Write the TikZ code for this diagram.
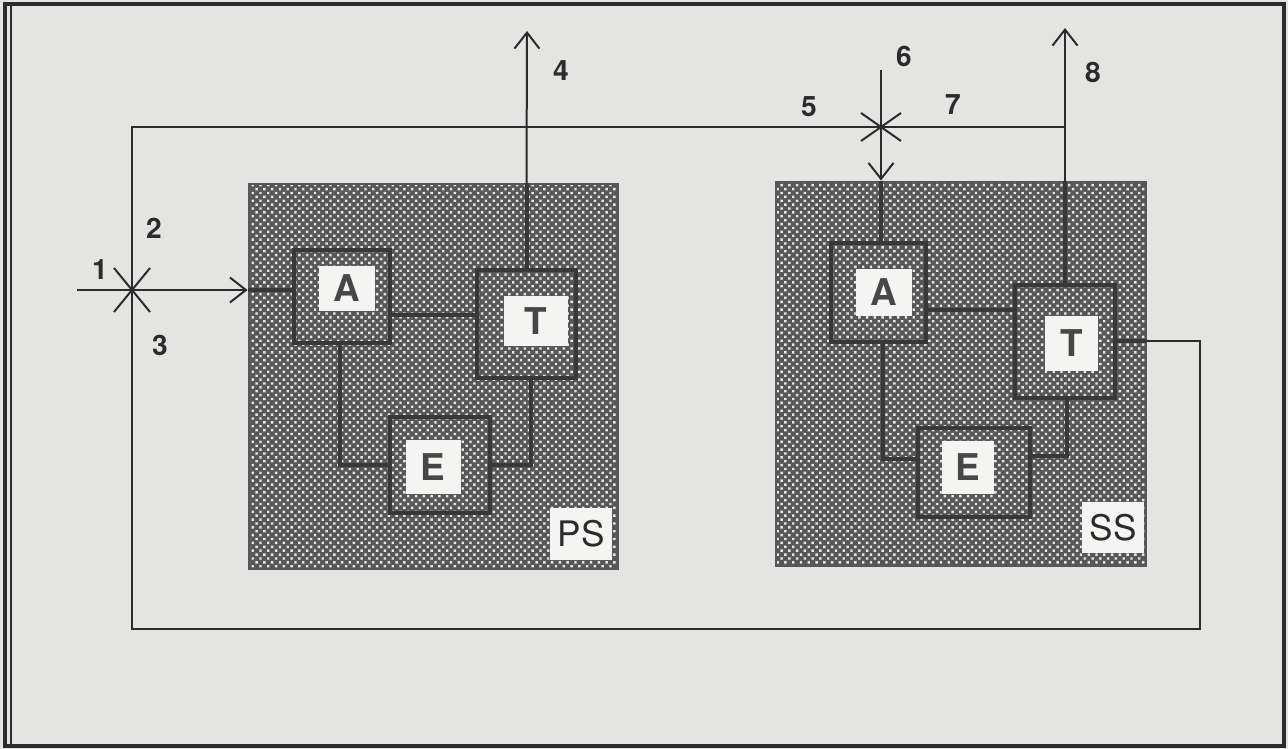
\documentclass[tikz,border=0pt]{standalone}
\usepackage{fontspec}
\setsansfont{TeX Gyre Heros}
\usetikzlibrary{arrows.meta,positioning,patterns.meta}
\definecolor{PageGray}{HTML}{E4E4E2}
\definecolor{InkDark}{HTML}{2B2B2B}
\definecolor{HatchDark}{HTML}{575757}
\definecolor{HatchDot}{HTML}{E6E6E6}
\definecolor{FrameDark}{HTML}{383838}
\definecolor{TagWhite}{HTML}{F4F4F2}
\definecolor{TagInk}{HTML}{474747}

\begin{document}
\begin{tikzpicture}[x=0.02cm,y=-0.02cm,
    flow/.style={draw=InkDark, line width=0.04cm},
    flowarr/.style={flow, -{Straight Barb[length=0.32cm,width=0.5cm,line width=0.04cm]}},
    link/.style={draw=FrameDark, line width=0.08cm},
    syssq/.style={draw=HatchDark, line width=0.04cm, preaction={fill=HatchDark},
      pattern={Dots[distance=0.11cm,angle=45,radius=0.034cm]}, pattern color=HatchDot,
      minimum width=7.4cm, minimum height=7.7cm, inner sep=0pt},
    partbox/.style={draw=FrameDark, line width=0.08cm, inner sep=0pt},
    tag/.style={fill=TagWhite, text=TagInk, inner sep=0pt, font=\sffamily\bfseries\fontsize{21}{21}\selectfont},
    systag/.style={fill=TagWhite, text=InkDark, inner sep=0pt, font=\sffamily\fontsize{20}{20}\selectfont},
    num/.style={text=InkDark, font=\sffamily\bfseries\fontsize{16}{16}\selectfont}]
    \useasboundingbox (0,0) rectangle (1288,749);
    \fill[PageGray] (0,0) rectangle (1288,749);

    % Page frame
    \draw[InkDark, line width=0.07cm] (5,4) rectangle (1284,746);
    \draw[InkDark, line width=0.03cm] (11,4) -- (11,746);

    % Primary system
    \node[syssq] (ps) at (433.5,376.5) {};
    \node[partbox, minimum width=1.92cm, minimum height=1.86cm] (psAbox) at (342,296.5) {};
    \node[partbox, minimum width=1.98cm, minimum height=2.16cm] (psTbox) at (526.5,324) {};
    \node[partbox, minimum width=2cm, minimum height=1.92cm] (psEbox) at (440,465) {};
    \node[tag, minimum width=1.12cm, minimum height=0.9cm] (psA) at (347,288.5) {A};
    \node[tag, minimum width=1.28cm, minimum height=1cm] (psT) at (536,321) {T};
    \node[tag, minimum width=1.1cm, minimum height=1.1cm] (psE) at (433,467) {E};
    \node[systag, minimum width=1.24cm, minimum height=1.04cm] (psname) at (581,534) {PS};

    % Secondary system
    \node[syssq] (ss) at (961,374) {};
    \node[partbox, minimum width=1.9cm, minimum height=1.98cm] (ssAbox) at (878.5,292.5) {};
    \node[partbox, minimum width=2cm, minimum height=2.26cm] (ssTbox) at (1065,341.5) {};
    \node[partbox, minimum width=2.24cm, minimum height=1.78cm] (ssEbox) at (974,472.5) {};
    \node[tag, minimum width=1.12cm, minimum height=0.94cm] (ssA) at (884,292.5) {A};
    \node[tag, minimum width=1.06cm, minimum height=1.1cm] (ssT) at (1071.5,343.5) {T};
    \node[tag, minimum width=1.04cm, minimum height=1.08cm] (ssE) at (968,467.5) {E};
    \node[systag, minimum width=1.24cm, minimum height=1.02cm] (ssname) at (1113,527.5) {SS};

    % junctions and free ends
    \coordinate (in1) at (77,290);
    \coordinate (j1) at (132,290);
    \coordinate (j2) at (881,127);
    \coordinate (in6) at (881,70);
    \coordinate (out4) at (527,31);
    \coordinate (out8) at (1065,28);
    \coordinate (c1) at (1200,629);
    \coordinate (c2) at (132,629);
    \coordinate (c3) at (132,127);
    \coordinate (psAT) at (0,315);
    \coordinate (ssAT) at (0,310);

    % links inside the systems
    \draw[link] (ps.west |- j1) -- (psAbox.west |- j1);
    \draw[link] (ps.north -| psTbox.north) -- (psTbox.north);
    \draw[link] (psAbox.east |- psAT) -- (psTbox.west |- psAT);
    \draw[link] ([xshift=-0.04cm]psAbox.south) |- (psEbox.west);
    \draw[link] ([xshift=0.09cm]psTbox.south) |- (psEbox.east);
    \draw[link] (ss.north -| in6) -- (ssAbox.north -| in6);
    \draw[link] (ss.north -| ssTbox.north) -- (ssTbox.north);
    \draw[link] (ssAbox.east |- ssAT) -- (ssTbox.west |- ssAT);
    \draw[link] ([xshift=0.09cm]ssAbox.south) |- ([yshift=0.28cm]ssEbox.west);
    \draw[link] ([xshift=0.04cm]ssTbox.south) |- ([yshift=0.34cm]ssEbox.east);
    \draw[link] (ssTbox.east) -- (ss.east |- ssTbox.east);

    % flows
    \draw[flowarr] (in1) -- (ps.west |- j1);
    \draw[flowarr] (ps.north -| psTbox.north) -- (out4);
    \draw[flowarr] (in6) -- (ss.north -| in6);
    \draw[flowarr] (ss.north -| ssTbox.north) -- (out8);
    \draw[flow] (ss.east |- ssTbox.east) -| (c1) -- (c2) -- (c3) -- (c3 -| out8);

    % crossings
    \draw[flow] ([shift={(-18,-22)}]j1) -- ([shift={(18,22)}]j1);
    \draw[flow] ([shift={(18,-22)}]j1) -- ([shift={(-18,22)}]j1);
    \draw[flow] ([shift={(-20,-14)}]j2) -- ([shift={(20,14)}]j2);
    \draw[flow] ([shift={(20,-14)}]j2) -- ([shift={(-20,14)}]j2);

    % numbers
    \node[num] (n1) at (100,270) {1};
    \node[num] (n2) at (154,228) {2};
    \node[num] (n3) at (160,345) {3};
    \node[num] (n4) at (561,71) {4};
    \node[num] (n5) at (809,107) {5};
    \node[num] (n6) at (904,56) {6};
    \node[num] (n7) at (953,105) {7};
    \node[num] (n8) at (1093,72) {8};
\end{tikzpicture}
\end{document}
